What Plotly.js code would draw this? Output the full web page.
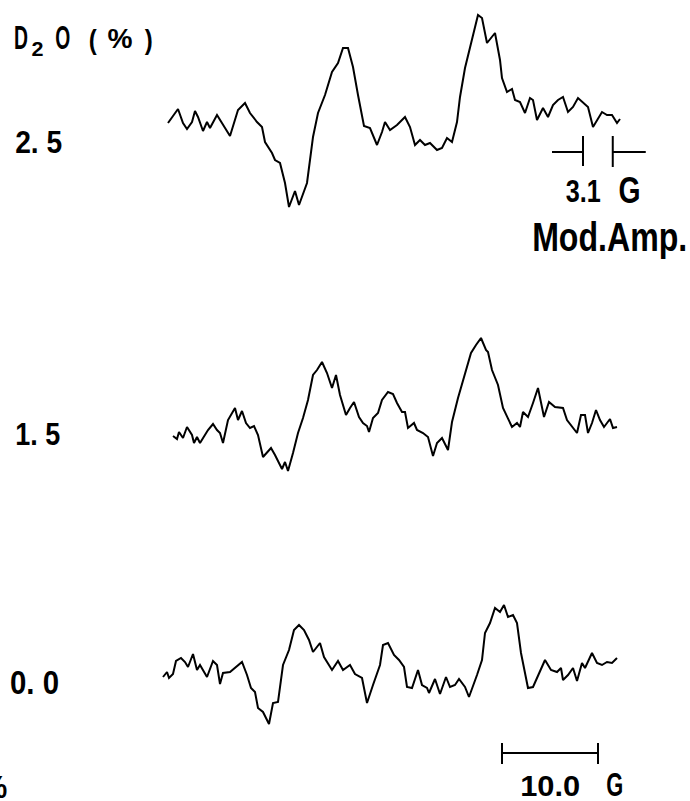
<!DOCTYPE html>
<html>
<head>
<meta charset="utf-8">
<script src="https://cdn.plot.ly/plotly-3.0.1.min.js"></script>
<style>
  html, body { margin: 0; padding: 0; background: #fff; }
  #chart { width: 690px; height: 801px; }
</style>
</head>
<body>
<div id="chart"></div>
<script>
// ---------------- DATA ----------------
// D2O concentrations (%) labelling each spectrum
const concLabels = ["2. 5", "1. 5", "0. 0"];

// Field position (arbitrary sweep units) and EPR first-derivative signal (arbitrary units)
const field25 = [168,175,178,183,187,192,195,198,203,207,210,217,223,230,238,245,250,257,262,265,272,275,280,285,289,295,299,307,313,318,325,332,338,343,348,353,358,364,370,377,382,385,390,397,405,410,415,420,425,430,437,442,447,452,457,460,465,470,474,478,482,487,495,500,502,507,512,515,520,525,530,533,537,543,548,553,558,563,568,573,578,583,588,593,597,602,607,612,617,620];
const signal25 = [2,12,16,2,-4,3,14,8,-6,3,-3,10,0,-11,15,22,12,3,-2,-17,-28,-35,-38,-58,-82,-66,-80,-58,-12,12,30,53,62,77,77,58,30,-1,-3,-20,-7,3,-5,0,8,-2,-20,-15,-20,-18,-25,-23,-13,-17,3,28,57,78,92,110,107,82,92,65,47,33,36,25,23,12,27,25,5,17,8,20,25,28,13,18,27,22,18,-2,5,13,10,10,2,6];

const field15 = [173,177,179,183,187,192,194,197,200,205,208,213,217,220,223,228,235,238,242,246,250,254,258,263,267,271,275,282,285,288,293,298,303,308,313,317,322,327,332,336,340,346,350,354,359,363,367,369,373,378,382,388,393,397,402,405,408,414,417,423,428,433,437,442,448,452,458,465,471,476,481,486,488,492,498,503,512,517,520,523,528,533,538,544,549,555,563,567,572,577,581,585,588,592,596,600,604,610,613,617];
const signal15 = [-1,-4,3,-3,8,0,-8,-2,-8,0,5,11,5,2,-8,15,27,15,24,12,7,9,0,-22,-18,-13,-20,-34,-27,-36,-18,2,17,35,60,65,73,62,47,60,40,20,27,33,18,12,9,3,17,22,35,43,41,32,23,23,7,12,5,2,-2,-21,-8,-3,-15,13,37,60,82,90,97,85,83,65,50,27,8,12,8,23,18,32,47,18,33,28,27,15,8,2,20,20,2,12,25,15,8,16,7,8];

const field00 = [163,167,169,173,176,181,185,188,193,197,200,203,207,213,217,220,223,230,236,242,247,251,255,258,263,269,273,278,283,289,294,299,304,309,313,320,324,332,338,343,350,355,362,367,373,380,383,388,394,399,404,407,412,415,418,422,427,429,435,440,446,450,455,459,465,469,473,477,482,485,490,495,500,504,508,513,517,521,525,528,533,538,545,551,557,561,563,568,573,577,582,585,592,597,602,607,612,617];
const signal00 = [-7,-2,-8,-4,9,12,8,3,16,0,5,0,-7,9,5,-14,-3,-2,3,8,-5,-18,-22,-38,-42,-54,-33,-32,5,20,40,45,40,30,18,27,13,0,9,0,5,-4,-8,-33,-15,5,25,27,15,10,3,-17,-18,-8,0,-15,-18,-23,-9,-24,-7,-17,-15,-9,-17,-27,-17,-5,10,37,47,62,58,65,53,55,47,17,-3,-18,-17,-5,10,0,-2,2,-10,-5,2,-11,7,2,17,7,5,8,7,12];

// Scale markers (gauss)
const fieldScaleG = 10.0;     // field scale bar
const modAmpG = 3.1;          // modulation amplitude
const unitsPerGauss = 9.6;    // sweep units per gauss (from 10 G bar)

// ---------------- LAYOUT HELPERS ----------------
const W = 690, H = 801;
const py = p => (H - p) / H;            // pixel row -> paper fraction
const pxf = p => p / W;                  // pixel column -> paper fraction
const baselines = [125, 435, 670];       // where each spectrum sits
const half = 120;
const dom = b => [py(b + half), py(b - half)];

const FONT = "Liberation Sans, Arial, sans-serif";
const lineStyle = {color: "#000", width: 2};

const traces = [
  {x: field25, y: signal25, yaxis: "y",  mode: "lines", line: lineStyle, hoverinfo: "skip"},
  {x: field15, y: signal15, yaxis: "y2", mode: "lines", line: lineStyle, hoverinfo: "skip"},
  {x: field00, y: signal00, yaxis: "y3", mode: "lines", line: lineStyle, hoverinfo: "skip"}
];

const hidden = {visible: false, fixedrange: true, range: [-half, half]};

// text widths (condensed lettering) applied after drawing
const textWidths = [];
function ann(text, xc, yPix, size, width) {
  textWidths.push(width);
  return {text: text, x: pxf(xc), xref: "paper", y: py(yPix), yref: "paper",
          xanchor: "center", yanchor: "middle", showarrow: false, borderpad: 0,
          font: {family: FONT, size: size, color: "#000", weight: "bold"}};
}

const annotations = [
  ann("D", 21, 37, 33, 14),
  ann("2", 37, 49, 20, 12),
  ann("O", 62.5, 37, 33, 15),
  ann("(", 92.5, 39, 28, 8),
  ann("%", 120, 39, 27, 25),
  ann(")", 148, 39, 28, 8),
  ann(concLabels[0], 38.5, 141.5, 32, 47),
  ann(concLabels[1], 37.5, 434, 31, 45),
  ann(concLabels[2], 34.5, 682.5, 33, 49),
  ann("%", -6, 787, 32, 26),
  ann("3.1", 582.5, 191, 32, 35),
  ann("G", 629, 190, 37, 22),
  ann("Mod.Amp.", 609.5, 237, 40, 155),
  ann("10.0", 550, 785, 30, 60),
  ann("G", 615, 784, 33, 17)
];

// scale bars as shapes derived from gauss values
const barStart = 502;
const barEnd = barStart + fieldScaleG * unitsPerGauss;
const modLeft = 583;
const modRight = modLeft + modAmpG * unitsPerGauss;
const arm = 31;
const sLine = {color: "#000", width: 2};
function seg(x0, y0, x1, y1) {
  return {type: "line", xref: "x", yref: "paper", x0: x0, x1: x1, y0: py(y0), y1: py(y1), line: sLine};
}
const shapes = [
  seg(barStart, 753, barEnd, 753),
  seg(barStart, 743, barStart, 764),
  seg(barEnd, 743, barEnd, 764),
  seg(modLeft - arm, 152, modLeft, 152),
  seg(modLeft, 136, modLeft, 166),
  seg(modRight, 136, modRight, 167),
  seg(modRight, 152, modRight + arm + 2, 152)
];

const layout = {
  width: W, height: H,
  margin: {l: 0, r: 0, t: 0, b: 0, pad: 0},
  paper_bgcolor: "#fff", plot_bgcolor: "rgba(0,0,0,0)",
  showlegend: false,
  xaxis: {visible: false, fixedrange: true, range: [0, W], domain: [0, 1]},
  yaxis:  Object.assign({}, hidden, {domain: dom(baselines[0])}),
  yaxis2: Object.assign({}, hidden, {domain: dom(baselines[1])}),
  yaxis3: Object.assign({}, hidden, {domain: dom(baselines[2])}),
  annotations: annotations,
  shapes: shapes
};

Plotly.newPlot("chart", traces, layout, {staticPlot: true, displayModeBar: false}).then(function (gd) {
  textWidths.forEach(function (w, i) {
    const t = gd.querySelector('g.annotation[data-index="' + i + '"] text.annotation-text');
    if (t) {
      t.setAttribute("textLength", w);
      t.setAttribute("lengthAdjust", "spacingAndGlyphs");
    }
  });
});
</script>
</body>
</html>
